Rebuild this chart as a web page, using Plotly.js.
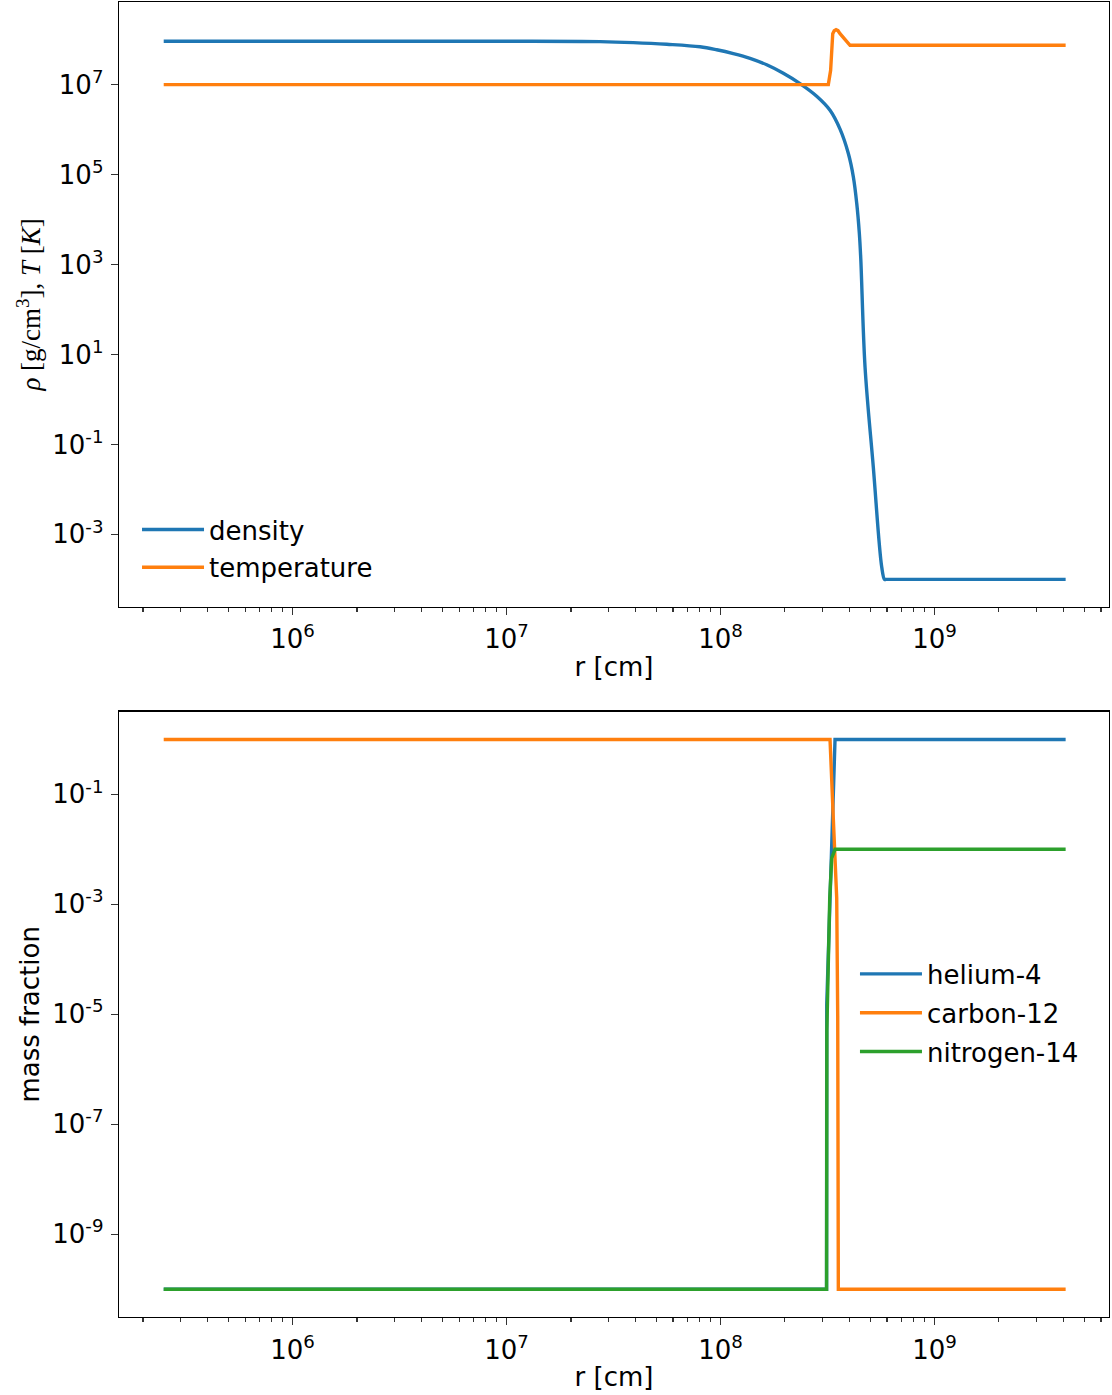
<!DOCTYPE html>
<html>
<head>
<meta charset="utf-8">
<script src="https://cdn.plot.ly/plotly-3.0.1.min.js"></script>
<style>
  html, body { margin: 0; padding: 0; background: #ffffff; }
  #chart { width: 1112px; height: 1395px; }
</style>
</head>
<body>
<div id="chart"></div>
<script>
// ---------- data ----------
const r_density = [2.5e5, 9.32e6, 2.735e7, 3.914e7, 5.607e7, 8.02e7, 9.6e7, 1.148e8, 1.374e8, 1.644e8, 1.966e8, 2.352e8, 2.815e8, 3.249e8, 3.618e8, 3.957e8, 4.176e8, 4.331e8, 4.454e8, 4.522e8, 4.736e8, 5.176e8, 5.666e8, 5.84e8, 5.95e8, 4.1e9];
const density   = [9.2e7, 9.2e7, 9.03e7, 8.58e7, 7.87e7, 6.92e7, 5.94e7, 4.89e7, 3.84e7, 2.75e7, 1.78e7, 1.05e7, 5.5e6, 2.68e6, 1.02e6, 2.93e5, 8.85e4, 2.27e4, 4.89e3, 1.36e3, 5.2, 3.13e-2, 1.88e-4, 1.0e-4, 1.0e-4, 1.0e-4];

const r_temperature = [2.5e5, 3.19e8, 3.27e8, 3.31e8, 3.345e8, 3.40e8, 3.466e8, 3.54e8, 3.618e8, 4.029e8, 4.1e9];
const temperature   = [1.0e7, 1.0e7, 2.08e7, 4.9e7, 1.36e8, 1.58e8, 1.67e8, 1.58e8, 1.36e8, 7.47e7, 7.47e7];

const r_helium = [2.5e5, 3.13e8, 3.136e8, 3.428e8, 4.1e9];
const helium   = [1e-10, 1e-10, 1.5e-5, 0.99, 0.99];

const r_carbon = [2.5e5, 3.249e8, 3.366e8, 3.491e8, 3.529e8, 3.552e8, 4.1e9];
const carbon   = [0.99, 0.99, 3.6e-2, 1.3e-3, 9.3e-6, 1e-10, 1e-10];

const r_nitrogen = [2.5e5, 3.13e8, 3.14e8, 3.238e8, 3.308e8, 3.428e8, 4.1e9];
const nitrogen   = [1e-10, 1e-10, 5e-6, 1.3e-3, 6.9e-3, 1e-2, 1e-2];

const xTickVals = [1e6, 1e7, 1e8, 1e9];
const xTickText = ['10<sup>6</sup>', '10<sup>7</sup>', '10<sup>8</sup>', '10<sup>9</sup>'];
const y1TickVals = [1e-3, 1e-1, 1e1, 1e3, 1e5, 1e7];
const y1TickText = ['10<sup>-3</sup>', '10<sup>-1</sup>', '10<sup>1</sup>', '10<sup>3</sup>', '10<sup>5</sup>', '10<sup>7</sup>'];
const y2TickVals = [1e-9, 1e-7, 1e-5, 1e-3, 1e-1];
const y2TickText = ['10<sup>-9</sup>', '10<sup>-7</sup>', '10<sup>-5</sup>', '10<sup>-3</sup>', '10<sup>-1</sup>'];

// ---------- style ----------
const C = ['#1f77b4', '#ff7f0e', '#2ca02c'];
const LW = 3.4;
const FONT = 'DejaVu Sans, sans-serif';
const FS = 26;

// minor tick positions for the log x axis (2..9 x 10^k)
const minorX = [];
for (let k = 5; k <= 9; k++) for (let m = 2; m <= 9; m++) minorX.push(m * Math.pow(10, k));

const traces = [
  {x: r_density, y: density, name: 'density', xaxis: 'x', yaxis: 'y', legend: 'legend', legendgroup: 'd',
   mode: 'lines', line: {color: C[0], width: LW, shape: 'spline', smoothing: 1}},
  {x: r_temperature, y: temperature, name: 'temperature', xaxis: 'x', yaxis: 'y', legend: 'legend', legendgroup: 't',
   mode: 'lines', line: {color: C[1], width: LW}},
  {x: r_helium, y: helium, name: 'helium-4', xaxis: 'x2', yaxis: 'y2', legend: 'legend2', legendgroup: 'he',
   mode: 'lines', line: {color: C[0], width: LW}},
  {x: r_carbon, y: carbon, name: 'carbon-12', xaxis: 'x2', yaxis: 'y2', legend: 'legend2', legendgroup: 'c',
   mode: 'lines', line: {color: C[1], width: LW}},
  {x: r_nitrogen, y: nitrogen, name: 'nitrogen-14', xaxis: 'x2', yaxis: 'y2', legend: 'legend2', legendgroup: 'n',
   mode: 'lines', line: {color: C[2], width: LW}}
];

function xAxis(anchor) {
  return {
    type: 'log', range: [5.189, 9.8154], anchor: anchor,
    showgrid: false, zeroline: false,
    showline: true, mirror: true, linecolor: '#000', linewidth: 1.3,
    ticks: 'outside', ticklen: 7, tickwidth: 1.3, tickcolor: '#333',
    tickmode: 'array', tickvals: xTickVals, ticktext: xTickText,
    tickfont: {family: FONT, size: FS, color: '#000'},
    ticklabelstandoff: 2,
    minor: {tickmode: 'array', tickvals: minorX, ticks: 'outside', ticklen: 4, tickwidth: 1.1, tickcolor: '#333', showgrid: false},
    title: {text: 'r [cm]', font: {family: FONT, size: FS, color: '#000'}, standoff: 4}
  };
}

const layout = {
  width: 1112, height: 1395,
  margin: {l: 119, r: 3, t: 2, b: 78},
  paper_bgcolor: '#fff', plot_bgcolor: '#fff',
  showlegend: true,
  xaxis: xAxis('y'),
  xaxis2: xAxis('y2'),
  yaxis: {
    type: 'log', range: [-4.609, 8.836], domain: [0.5401, 1], anchor: 'x',
    showgrid: false, zeroline: false,
    showline: true, mirror: true, linecolor: '#000', linewidth: 1.3,
    ticks: 'outside', ticklen: 7, tickwidth: 1.3, tickcolor: '#333',
    tickmode: 'array', tickvals: y1TickVals, ticktext: y1TickText,
    tickfont: {family: FONT, size: FS, color: '#000'},
    ticklabelstandoff: 2,
    title: {text: '<i>ρ</i> [g/cm<sup>3</sup>], <i>T</i> [<i>K</i>]', font: {family: 'Liberation Serif, serif', size: 27, color: '#000'}, standoff: 3}
  },
  yaxis2: {
    type: 'log', range: [-10.504, 0.502], domain: [0, 0.4603], anchor: 'x2',
    showgrid: false, zeroline: false,
    showline: true, mirror: true, linecolor: '#000', linewidth: 1.3,
    ticks: 'outside', ticklen: 7, tickwidth: 1.3, tickcolor: '#333',
    tickmode: 'array', tickvals: y2TickVals, ticktext: y2TickText,
    tickfont: {family: FONT, size: FS, color: '#000'},
    ticklabelstandoff: 2,
    title: {text: 'mass fraction', font: {family: FONT, size: FS, color: '#000'}, standoff: 5}
  },
  legend: {
    x: 0.0182, y: 0.6167, xanchor: 'left', yanchor: 'top',
    bgcolor: 'rgba(255,255,255,0)', borderwidth: 0,
    font: {family: FONT, size: FS, color: '#000'},
    itemwidth: 62, tracegroupgap: 1
  },
  legend2: {
    x: 0.7434, y: 0.2787, xanchor: 'left', yanchor: 'top',
    bgcolor: 'rgba(255,255,255,0)', borderwidth: 0,
    font: {family: FONT, size: FS, color: '#000'},
    itemwidth: 62, tracegroupgap: 2
  }
};

Plotly.newPlot('chart', traces, layout, {displayModeBar: false, staticPlot: true});
</script>
</body>
</html>
